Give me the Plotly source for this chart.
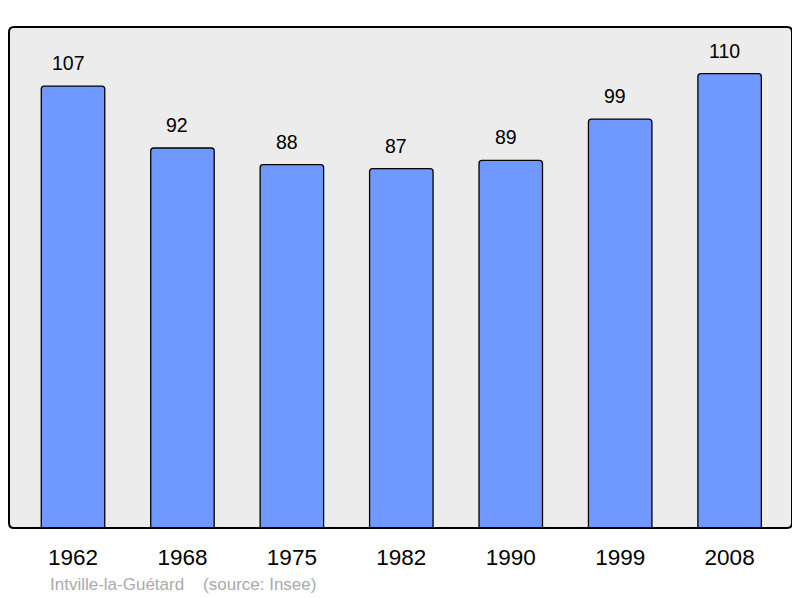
import plotly.graph_objects as go

# population by census year
years = ['1962', '1968', '1975', '1982', '1990', '1999', '2008']
population = [107, 92, 88, 87, 89, 99, 110]

commune = 'Intville-la-Guétard'
source = '(source: Insee)'

bar_color = '#7099ff'
bg_color = '#ececec'

fig = go.Figure()

fig.add_trace(go.Bar(
    x=list(range(len(years))),
    y=population,
    width=0.58,
    marker=dict(color=bar_color, line=dict(color='black', width=1.3), cornerradius=3),
    hoverinfo='skip',
))

# value labels above bars (sit a little left of the bar centre in the original)
for i, v in enumerate(population):
    fig.add_annotation(x=i, y=v, text=str(v), showarrow=False,
                       yanchor='bottom', yshift=10, xshift=-5,
                       font=dict(family='Liberation Sans, Arial', size=19.5, color='black'))

# source line
fig.add_annotation(xref='paper', yref='paper', x=0, y=0, xshift=39, yshift=-56,
                   xanchor='left', yanchor='middle', showarrow=False,
                   text=commune + '&nbsp;&nbsp;&nbsp;&nbsp;' + source,
                   font=dict(family='Liberation Sans, Arial', size=17, color='#aaaaaa'))

# rounded frame around plot area
rx, ry = 5 / 783, 5 / 501
path = (f'M {rx},0 L {1-rx},0 Q 1,0 1,{ry} L 1,{1-ry} Q 1,1 {1-rx},1 '
        f'L {rx},1 Q 0,1 0,{1-ry} L 0,{ry} Q 0,0 {rx},0 Z')
fig.add_shape(type='path', path=path, xref='paper', yref='paper',
              line=dict(color='black', width=2), fillcolor='rgba(0,0,0,0)', layer='above')

# page body has an 8px margin, so the figure is a bit smaller than the window
fig.update_layout(
    width=792, height=590,
    margin=dict(l=1, r=8, t=19, b=70),
    paper_bgcolor='white',
    plot_bgcolor=bg_color,
    showlegend=False,
    xaxis=dict(
        range=[-0.585, 6.57],
        tickmode='array',
        tickvals=list(range(len(years))),
        ticktext=years,
        ticks='outside', ticklen=9, tickcolor='rgba(0,0,0,0)',
        showgrid=False, zeroline=False, showline=False,
        tickfont=dict(family='Liberation Sans, Arial', size=22.5, color='black'),
        fixedrange=True,
    ),
    yaxis=dict(
        range=[0, 121.3],
        showgrid=False, zeroline=False, showline=False,
        showticklabels=False, fixedrange=True,
    ),
)

fig.write_html('out.html')
